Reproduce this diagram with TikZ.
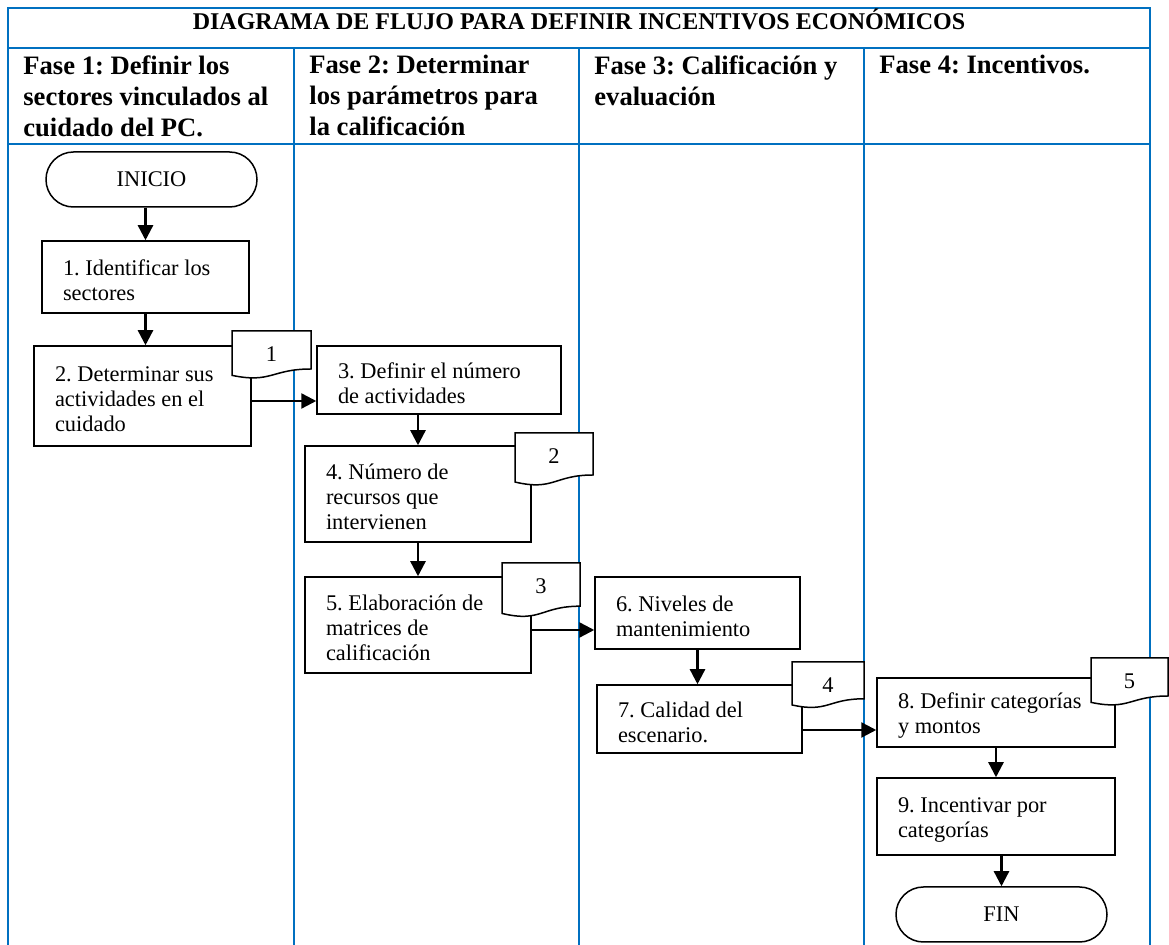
\documentclass[tikz,border=0pt]{standalone}
\usepackage{fontspec}
\setmainfont{Liberation Serif}
\usetikzlibrary{arrows.meta}
\definecolor{lane}{HTML}{0070C0}
\frenchspacing

% first line pushed a little lower in the boxes
\newcommand{\topgap}{\rule{0pt}{11pt}}
% name, left, top, width, height, number
\newcommand{\docnote}[6]{%
  \filldraw[docnote] (#2,#3) -- ({#2+#4},#3) -- ({#2+#4},{#3+0.8*#5})
    .. controls ({#2+0.5*#4},{#3+0.8*#5}) and ({#2+0.5*#4},{#3+1.108*#5}) .. (#2,{#3+0.934*#5})
    -- cycle node[docnum] (#1) at ({#2+0.5*#4},{#3+31}) {#6};}

\begin{document}
\begin{tikzpicture}[x=0.5pt,y=-0.5pt,font=\fontsize{11.2}{12.5}\selectfont,
        lanes/.style={draw=lane,line width=1.2pt},
        phase/.style={anchor=north west,align=left,inner sep=0pt,font=\fontsize{13.3}{15.5}\selectfont\bfseries},
        act/.style={draw,fill=white,line width=0.75pt,align=flush left,inner xsep=10.5pt,inner ysep=0pt},
        term/.style={draw,fill=white,line width=0.75pt,rounded corners=13.7pt,minimum width=105.5pt,minimum height=27.5pt},
        docnote/.style={draw,fill=white,line width=0.75pt},
        docnum/.style={anchor=base},
        flow/.style={-{Triangle[length=7.5pt,width=7.5pt]},line width=1.2pt}]
      \useasboundingbox (0,0) rectangle (1169,945);
      % swimlanes
      \draw[lanes] (8,950) -- (8,8) -- (1150,8) -- (1150,950);
      \draw[lanes] (8,48) -- (1150,48) (8,144) -- (1150,144);
      \foreach \x in {294,579,864}
        \draw[lanes] (\x,48) -- (\x,950);
      \node[anchor=base,font=\fontsize{12}{14}\selectfont\bfseries] (title) at (579,30)
        {DIAGRAMA DE FLUJO PARA DEFINIR INCENTIVOS ECONÓMICOS};
      \node[phase] (h1) at (23,55) {Fase 1: Definir los\\ sectores vinculados al\\ cuidado del PC.};
      \node[phase] (h2) at (309,55) {Fase 2: Determinar\\ los parámetros para\\ la calificación};
      \node[phase] (h3) at (594,55) {Fase 3: Calificación y\\ evaluación};
      \node[phase] (h4) at (879,55) {Fase 4: Incentivos.};
      % steps
      \node[term] (ini) at (151.5,179.5) {INICIO};
      \node[act,text width=82.5pt,minimum height=36pt] (b1) at (145.5,277) {\topgap 1. Identificar los\\ sectores};
      \node[act,text width=87.5pt,minimum height=50pt] (b2) at (142.5,396) {\topgap 2. Determinar sus\\ actividades en el\\ cuidado};
      \node[act,text width=101pt,minimum height=34pt] (b3) at (439,380) {\topgap 3. Definir el número\\ de actividades};
      \node[act,text width=92pt,minimum height=48pt] (b4) at (418,494) {\topgap 4. Número de\\ recursos que\\ intervienen};
      \node[act,text width=92pt,minimum height=48pt] (b5) at (418,625) {\topgap 5. Elaboración de\\ matrices de\\ calificación};
      \node[act,text width=81.5pt,minimum height=36pt] (b6) at (697.5,613) {\topgap 6. Niveles de\\ mantenimiento};
      \node[act,text width=81.5pt,minimum height=34pt] (b7) at (699.5,719) {\topgap 7. Calidad del\\ escenario.};
      \node[act,text width=98pt,minimum height=34.5pt] (b8) at (996,712.5) {\topgap 8. Definir categorías\\ y montos};
      \node[act,text width=98pt,minimum height=38.5pt] (b9) at (996,816.5) {\topgap 9. Incentivar por\\ categorías};
      \node[term] (fin) at (1001.5,914.5) {FIN};
      % documents
      \docnote{d1}{232}{331}{79}{47.5}{1}
      \docnote{d2}{515}{433}{78}{52.5}{2}
      \docnote{d3}{502}{563}{78}{54}{3}
      \docnote{d4}{792}{662}{72}{46}{4}
      \docnote{d5}{1091}{658}{77}{47.5}{5}
      % connectors
      \draw[flow] (b1.north |- ini.south) -- (b1.north);
      \draw[flow] (b1.south) -- (b1.south |- b2.north);
      \draw[flow] ([yshift=-2.5pt]b2.east) -- ([yshift=-2.5pt]b2.east -| b3.west);
      \draw[flow] (b4.north |- b3.south) -- (b4.north);
      \draw[flow] (b4) -- (b5);
      \draw[flow] ([yshift=-2.5pt]b5.east) -- ([yshift=-2.5pt]b5.east -| b6.west);
      \draw[flow] (b6.south) -- (b6.south |- b7.north);
      \draw[flow] ([yshift=-5.5pt]b7.east) -- ([yshift=-5.5pt]b7.east -| b8.west);
      \draw[flow] (b8) -- (b9);
      \draw[flow] (fin.north |- b9.south) -- (fin.north);
    \end{tikzpicture}
\end{document}
